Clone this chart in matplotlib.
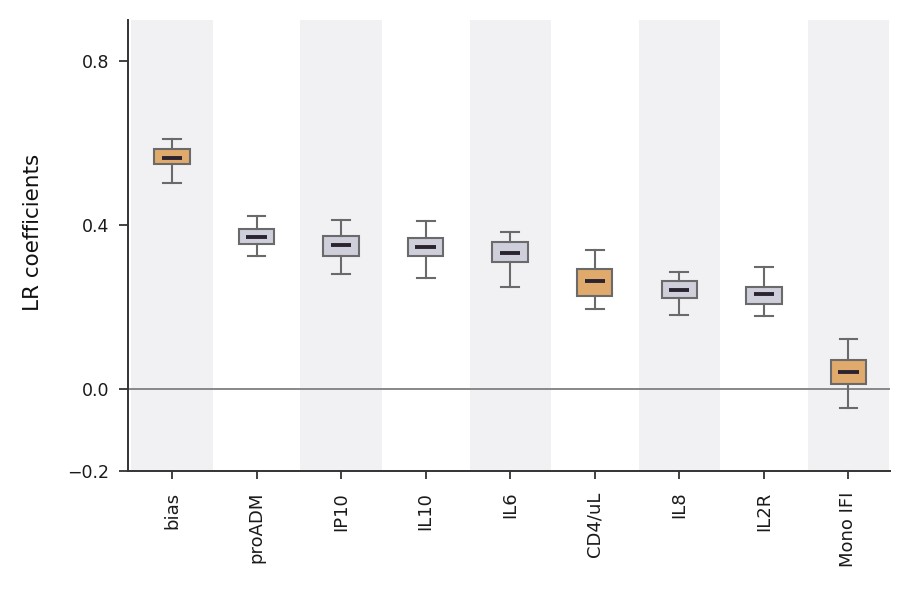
import matplotlib
matplotlib.use("Agg")
import matplotlib.pyplot as plt

categories = ["bias", "proADM", "IP10", "IL10", "IL6", "CD4/uL", "IL8", "IL2R", "Mono IFI"]
whisker_low = [0.502, 0.324, 0.281, 0.270, 0.249, 0.195, 0.181, 0.178, -0.046]
q1 = [0.549, 0.355, 0.325, 0.324, 0.310, 0.228, 0.221, 0.208, 0.013]
median = [0.563, 0.372, 0.351, 0.346, 0.332, 0.263, 0.241, 0.232, 0.042]
q3 = [0.586, 0.390, 0.374, 0.368, 0.358, 0.294, 0.264, 0.250, 0.070]
whisker_high = [0.610, 0.423, 0.412, 0.410, 0.383, 0.338, 0.285, 0.297, 0.122]
highlight = [True, False, False, False, False, True, False, False, True]
yticks = [-0.2, 0.0, 0.4, 0.8]
ytick_labels = ["\u22120.2", "0.0", "0.4", "0.8"]

fig = plt.figure(figsize=(8.97, 5.91), dpi=100)
ax = fig.add_axes([0.1427, 0.203, 0.8493, 0.763])

stats = []
for i, c in enumerate(categories):
    stats.append(dict(label=c, whislo=whisker_low[i], q1=q1[i], med=median[i],
                      q3=q3[i], whishi=whisker_high[i], fliers=[]))

positions = list(range(len(categories)))
for i in positions:
    if i % 2 == 0:
        ax.axvspan(i - 0.48, i + 0.48, color="#f1f1f3", zorder=0, lw=0)

ax.axhline(0, color="#888888", lw=1.4, zorder=1)

bp = ax.bxp(stats, positions=positions, widths=0.42, patch_artist=True,
            showfliers=False,
            boxprops=dict(edgecolor="#6a6a6a", linewidth=1.5),
            whiskerprops=dict(color="#6a6a6a", linewidth=1.5),
            capprops=dict(color="#6a6a6a", linewidth=1.5),
            medianprops=dict(visible=False), zorder=3)
for patch, h in zip(bp["boxes"], highlight):
    patch.set_facecolor("#e0aa6c" if h else "#cfcedb")

ax.hlines(median, [p - 0.12 for p in positions], [p + 0.12 for p in positions],
          colors="#2b2430", linewidth=2.8, zorder=4)

ax.set_xlim(-0.52, 8.49)
ax.set_ylim(-0.2, 0.9)
ax.tick_params(axis="y", length=6.5, pad=7, labelsize=12.5)
ax.tick_params(axis="x", length=6, pad=9, labelsize=13, labelrotation=90)
ax.tick_params(axis="both", colors="#333333", width=1.3, labelcolor="#1a1a1a")
ax.set_yticks(yticks)
ax.set_yticklabels(ytick_labels)
ax.set_xticks(positions)
ax.set_xticklabels(categories)
ax.set_ylabel("LR coefficients", fontsize=15.5, color="#111111")
ax.yaxis.set_label_coords(-0.112, 0.53)
for s in ["top", "right"]:
    ax.spines[s].set_visible(False)
for s in ["left", "bottom"]:
    ax.spines[s].set_color("#333333")
    ax.spines[s].set_linewidth(1.4)

fig.savefig("out.png", dpi=100, facecolor="white")
